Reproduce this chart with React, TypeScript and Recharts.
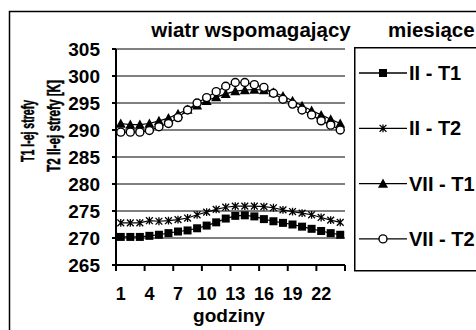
import React from 'react';
import { LineChart, Line, XAxis, YAxis, CartesianGrid, Legend, Customized } from 'recharts';

const hours = [1, 2, 3, 4, 5, 6, 7, 8, 9, 10, 11, 12, 13, 14, 15, 16, 17, 18, 19, 20, 21, 22, 23, 24];
const iiT1 = [270.2, 270.2, 270.2, 270.4, 270.6, 270.9, 271.2, 271.4, 271.8, 272.3, 272.9, 273.6, 274.1, 274.2, 274.0, 273.5, 273.1, 272.8, 272.5, 272.1, 271.7, 271.3, 270.9, 270.6];
const iiT2 = [272.8, 272.8, 272.8, 273.2, 273.1, 273.2, 273.4, 273.7, 274.3, 274.8, 275.3, 275.7, 275.9, 275.9, 275.9, 275.8, 275.6, 275.2, 274.9, 274.6, 274.3, 273.8, 273.3, 272.9];
const viiT1 = [291.2, 291.0, 291.0, 291.2, 291.7, 292.2, 293.0, 293.8, 294.6, 295.4, 296.1, 296.7, 297.2, 297.4, 297.5, 297.4, 297.0, 296.3, 295.4, 294.5, 293.6, 292.8, 292.0, 291.2];
const viiT2 = [289.6, 289.6, 289.6, 289.9, 290.6, 291.2, 292.3, 293.7, 295.0, 296.0, 297.1, 298.1, 298.8, 298.8, 298.4, 297.9, 296.8, 295.7, 294.8, 293.7, 292.8, 291.7, 290.9, 290.0];

const hourLabels = [1, 4, 7, 10, 13, 16, 19, 22];
const hourBoundaries = [0.5, 3.5, 6.5, 9.5, 12.5, 15.5, 18.5, 21.5, 24.5];
const tempTicks = [265, 270, 275, 280, 285, 290, 295, 300, 305];
const seriesNames = ['II - T1', 'II - T2', 'VII - T1', 'VII - T2'];
const chartTitle = 'wiatr wspomagający';
const legendTitle = 'miesiące';
const xTitle = 'godziny';
const yTitle1 = 'T1 I-ej strefy';
const yTitle2 = 'T2 II-ej strefy [K]';

const rows = hours.map((h, i) => ({ h, a: iiT1[i], b: iiT2[i], c: viiT1[i], d: viiT2[i] }));

const FONT = '"Liberation Sans", Arial, sans-serif';

const Square = ({ cx, cy, s = 8 }: any) => (
  <rect x={cx - s / 2} y={cy - s / 2} width={s} height={s} fill="#000" />
);
const Star = ({ cx, cy, s = 3.4 }: any) => (
  <path
    d={`M${cx - s},${cy - s}L${cx + s},${cy + s}M${cx - s},${cy + s}L${cx + s},${cy - s}M${cx},${cy - s - 0.5}L${cx},${cy + s + 0.5}`}
    stroke="#000"
    strokeWidth={1.3}
    fill="none"
  />
);
const Tri = ({ cx, cy, s = 5 }: any) => (
  <path d={`M${cx},${cy - s}L${cx + s},${cy + s * 0.85}L${cx - s},${cy + s * 0.85}Z`} fill="#000" />
);
const Circ = ({ cx, cy, r = 4 }: any) => (
  <circle cx={cx} cy={cy} r={r} fill="#fff" stroke="#000" strokeWidth={1.4} />
);

const markerByKey: Record<string, any> = { a: Square, b: Star, c: Tri, d: Circ };

const makeDot = (M: any) => (p: any) => {
  if (p.cx == null || p.cy == null) return <g key={`e-${p.index}`} />;
  return <M key={`m-${p.index}`} cx={p.cx} cy={p.cy} />;
};

const renderLegend = (props: any) => {
  const payload = props.payload || [];
  return (
    <svg width={140} height={226} style={{ display: 'block' }}>
      <rect x={0.75} y={0.75} width={160} height={223} fill="#fff" stroke="#000" strokeWidth={1.5} />
      {payload.map((e: any, i: number) => {
        const y = 26 + i * 55.3;
        const M = markerByKey[e.dataKey] || Square;
        return (
          <g key={i}>
            <line x1={5} x2={53} y1={y} y2={y} stroke="#000" strokeWidth={1.3} />
            <M cx={29} cy={y} />
            <text x={55} y={y + 7} fontFamily={FONT} fontWeight="bold" fontSize={20} fill="#000">
              {e.value}
            </text>
          </g>
        );
      })}
    </svg>
  );
};

const YTick = (p: any) => (
  <text x={p.x} y={p.y} dy="0.36em" textAnchor="end" fontFamily={FONT} fontWeight="bold" fontSize={19} fill="#000">
    {p.payload.value}
  </text>
);

const XTick = (p: any) => (
  <text x={p.x} y={p.y} textAnchor="middle" fontFamily={FONT} fontWeight="bold" fontSize={18} fill="#000">
    {p.payload.value}
  </text>
);

const EmptyTick = () => <g />;

const Decor = () => (
  <g fontFamily={FONT} fontWeight="bold" fill="#000">
    <rect x={9.5} y={11.5} width={600} height={400} fill="none" stroke="#000" strokeWidth={1.5} />
    <text x={251} y={37} textAnchor="middle" fontSize={20.5}>{chartTitle}</text>
    <text x={388} y={37} fontSize={20.5}>{legendTitle}</text>
    <text x={229} y={322} textAnchor="middle" fontSize={19}>{xTitle}</text>
    <text
      transform="translate(27,131) rotate(-90)"
      x={-31}
      y={0}
      dy="0.36em"
      fontSize={19}
      textLength={62}
      lengthAdjust="spacingAndGlyphs"
      stroke="#000"
      strokeWidth={0.5}
    >
      {yTitle1}
    </text>
    <text
      transform="translate(53,126) rotate(-90)"
      x={-46}
      y={0}
      dy="0.36em"
      fontSize={19}
      textLength={92}
      lengthAdjust="spacingAndGlyphs"
      stroke="#000"
      strokeWidth={0.5}
    >
      {yTitle2}
    </text>
  </g>
);

export default function App() {
  return (
    <div style={{ position: 'absolute', left: 0, top: 0, width: 476, height: 330, overflow: 'hidden', background: '#fff' }}>
      <LineChart width={476} height={330} data={rows} margin={{ top: 49, right: 131, bottom: 0, left: 0 }}>
        <CartesianGrid vertical={false} stroke="#000" strokeWidth={1} />
        <XAxis
          dataKey="h"
          type="number"
          domain={[0.5, 24.5]}
          ticks={hourBoundaries}
          interval={0}
          height={1}
          allowDataOverflow
          axisLine={{ stroke: '#000', strokeWidth: 2 }}
          tickLine={{ stroke: '#000', strokeWidth: 2 }}
          tickSize={6}
          tick={EmptyTick}
        />
        <XAxis
          xAxisId="lab"
          dataKey="h"
          type="number"
          domain={[0.5, 24.5]}
          ticks={hourLabels}
          interval={0}
          height={64}
          allowDataOverflow
          axisLine={false}
          tickLine={false}
          tickSize={0}
          tickMargin={34}
          tick={XTick}
        />
        <YAxis
          type="number"
          domain={[265, 305]}
          ticks={tempTicks}
          interval={0}
          width={116}
          allowDataOverflow
          axisLine={{ stroke: '#000', strokeWidth: 2 }}
          tickLine={{ stroke: '#000', strokeWidth: 2 }}
          tickSize={4}
          tickMargin={12}
          tick={YTick}
        />
        <YAxis
          yAxisId="r"
          orientation="right"
          type="number"
          domain={[265, 305]}
          width={0}
          tick={false}
          tickLine={false}
          axisLine={{ stroke: '#000', strokeWidth: 1.5 }}
        />
        <Line dataKey="a" name={seriesNames[0]} stroke="#000" strokeWidth={1.2} dot={makeDot(Square)} activeDot={false} isAnimationActive={false} />
        <Line dataKey="b" name={seriesNames[1]} stroke="#000" strokeWidth={1.2} dot={makeDot(Star)} activeDot={false} isAnimationActive={false} />
        <Line dataKey="c" name={seriesNames[2]} stroke="#000" strokeWidth={1.2} dot={makeDot(Tri)} activeDot={false} isAnimationActive={false} />
        <Line dataKey="d" name={seriesNames[3]} stroke="#000" strokeWidth={1.2} dot={makeDot(Circ)} activeDot={false} isAnimationActive={false} />
        <Legend
          layout="horizontal"
          verticalAlign="middle"
          align="center"
          content={renderLegend}
          wrapperStyle={{ position: 'absolute', left: 354, top: 47, width: 140, height: 226, margin: 0, padding: 0 }}
        />
        <Customized component={Decor} />
      </LineChart>
    </div>
  );
}
